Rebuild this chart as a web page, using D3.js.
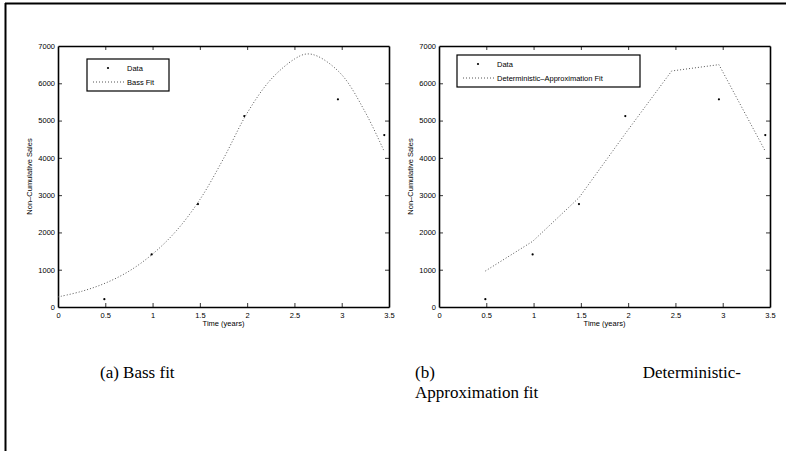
<!DOCTYPE html>
<html>
<head>
<meta charset="utf-8">
<script src="https://cdn.jsdelivr.net/npm/d3@7"></script>
<style>
  body { margin: 0; background: #fff; }
  svg { display: block; }
  .tick text { font-family: "Liberation Sans", Arial, sans-serif; font-size: 7.5px; fill: #000; }
</style>
</head>
<body>
<svg id="fig" width="786" height="451"></svg>
<script>
// observed sales points (both panels)
var dataTime = [0.49, 0.99, 1.48, 1.97, 2.96, 3.45]
var dataSales = [210, 1410, 2760, 5120, 5570, 4610]

// Bass fit curve
var bassTime = [0, 0.25, 0.5, 0.75, 1.0, 1.25, 1.5, 1.75, 2.0, 2.25, 2.5, 2.625, 2.75, 3.0, 3.25, 3.45]
var bassSales = [270, 420, 640, 960, 1420, 2040, 2880, 3980, 5200, 6100, 6650, 6785, 6720, 6230, 5220, 4170]

// deterministic-approximation fit
var detTime = [0.49, 0.99, 1.48, 1.97, 2.46, 2.96, 3.45]
var detSales = [965, 1760, 2930, 4650, 6330, 6500, 4180]

var xTicks = [0, 0.5, 1, 1.5, 2, 2.5, 3, 3.5]
var yTicks = [0, 1000, 2000, 3000, 4000, 5000, 6000, 7000]

var svg = d3.select("#fig")

// page frame (top and left rule)
svg.append("line").attr("x1", 5).attr("x2", 786).attr("y1", 3.5).attr("y2", 3.5)
  .attr("stroke", "#000").attr("stroke-width", 2)
svg.append("line").attr("x1", 5.5).attr("x2", 5.5).attr("y1", 3).attr("y2", 451)
  .attr("stroke", "#000").attr("stroke-width", 2)

const drawPanel = (left, fitTime, fitSales, curve, legend) => {
  var x = d3.scaleLinear().domain([0, 3.5]).range([left, left + 331])
  var y = d3.scaleLinear().domain([0, 7000]).range([307, 46])
  var g = svg.append("g")

  // axes, ticks pointing inwards on all four sides
  g.append("g").attr("transform", "translate(0,307)")
    .call(d3.axisBottom(x).tickValues(xTicks).tickSizeInner(-4).tickSizeOuter(0).tickPadding(6)
      .tickFormat(d3.format("")))
  g.append("g").attr("transform", "translate(0,46)")
    .call(d3.axisTop(x).tickValues(xTicks).tickSizeInner(-4).tickSizeOuter(0).tickFormat(""))
  g.append("g").attr("transform", "translate(" + left + ",0)")
    .call(d3.axisLeft(y).tickValues(yTicks).tickSizeInner(-4).tickSizeOuter(0).tickPadding(3)
      .tickFormat(d3.format("d")))
  g.append("g").attr("transform", "translate(" + (left + 331) + ",0)")
    .call(d3.axisRight(y).tickValues(yTicks).tickSizeInner(-4).tickSizeOuter(0).tickFormat(""))
  g.selectAll(".domain").attr("stroke", "#000").attr("stroke-width", 1.6)
  g.selectAll(".tick line").attr("stroke", "#000").attr("stroke-width", 0.8)
  g.selectAll(".tick").filter(function(d) { return d === 0 || d === 3.5 || d === 7000 })
    .select("line").remove()

  // axis labels
  g.append("text").attr("x", x(1.75)).attr("y", 326).attr("text-anchor", "middle")
    .attr("font-family", "Liberation Sans, Arial, sans-serif").attr("font-size", 7.5)
    .text("Time (years)")
  g.append("text").attr("transform", "translate(" + (left - 26) + "," + y(3500) + ") rotate(-90)")
    .attr("text-anchor", "middle")
    .attr("font-family", "Liberation Sans, Arial, sans-serif").attr("font-size", 7.5)
    .text("Non\u2013Cumulative Sales")

  // fitted curve
  var line = d3.line().x(function(d) { return x(d[0]) }).y(function(d) { return y(d[1]) }).curve(curve)
  g.append("path").datum(d3.zip(fitTime, fitSales)).attr("d", line)
    .attr("fill", "none").attr("stroke", "#555").attr("stroke-width", 1).attr("stroke-dasharray", "1,2")

  // data points
  g.selectAll("circle.pt").data(d3.zip(dataTime, dataSales)).enter().append("circle")
    .attr("class", "pt")
    .attr("cx", function(d) { return x(d[0]) })
    .attr("cy", function(d) { return y(d[1]) })
    .attr("r", 1.1).attr("fill", "#000")

  // legend
  var lg = g.append("g")
  lg.append("rect").attr("x", legend.x).attr("y", legend.y).attr("width", legend.w).attr("height", 32)
    .attr("fill", "#fff").attr("stroke", "#000").attr("stroke-width", 1.2)
  lg.append("circle").attr("cx", legend.x + 21).attr("cy", legend.y + 9).attr("r", 1.1).attr("fill", "#000")
  lg.append("line").attr("x1", legend.x + 6).attr("x2", legend.x + 38)
    .attr("y1", legend.y + 23).attr("y2", legend.y + 23)
    .attr("stroke", "#555").attr("stroke-width", 1).attr("stroke-dasharray", "1,2")
  lg.selectAll("text").data(["Data", legend.label]).enter().append("text")
    .attr("x", legend.x + 40)
    .attr("y", function(d, i) { return legend.y + 11.5 + i * 14 })
    .attr("font-family", "Liberation Sans, Arial, sans-serif").attr("font-size", 7.5)
    .text(function(d) { return d })
}

drawPanel(58, bassTime, bassSales, d3.curveCatmullRom.alpha(0.5), { x: 87, y: 59, w: 82, label: "Bass Fit" })
drawPanel(439, detTime, detSales, d3.curveLinear, { x: 457, y: 55, w: 183, label: "Deterministic\u2013Approximation Fit" })

// sub-captions
var cap = svg.append("g").attr("font-family", "Liberation Serif, Times New Roman, serif").attr("font-size", 17)
cap.append("text").attr("x", 100).attr("y", 378).text("(a) Bass fit")
cap.append("text").attr("x", 415).attr("y", 378).text("(b)")
cap.append("text").attr("x", 741).attr("y", 378).attr("text-anchor", "end").text("Deterministic-")
cap.append("text").attr("x", 415).attr("y", 398).text("Approximation fit")
</script>
</body>
</html>
